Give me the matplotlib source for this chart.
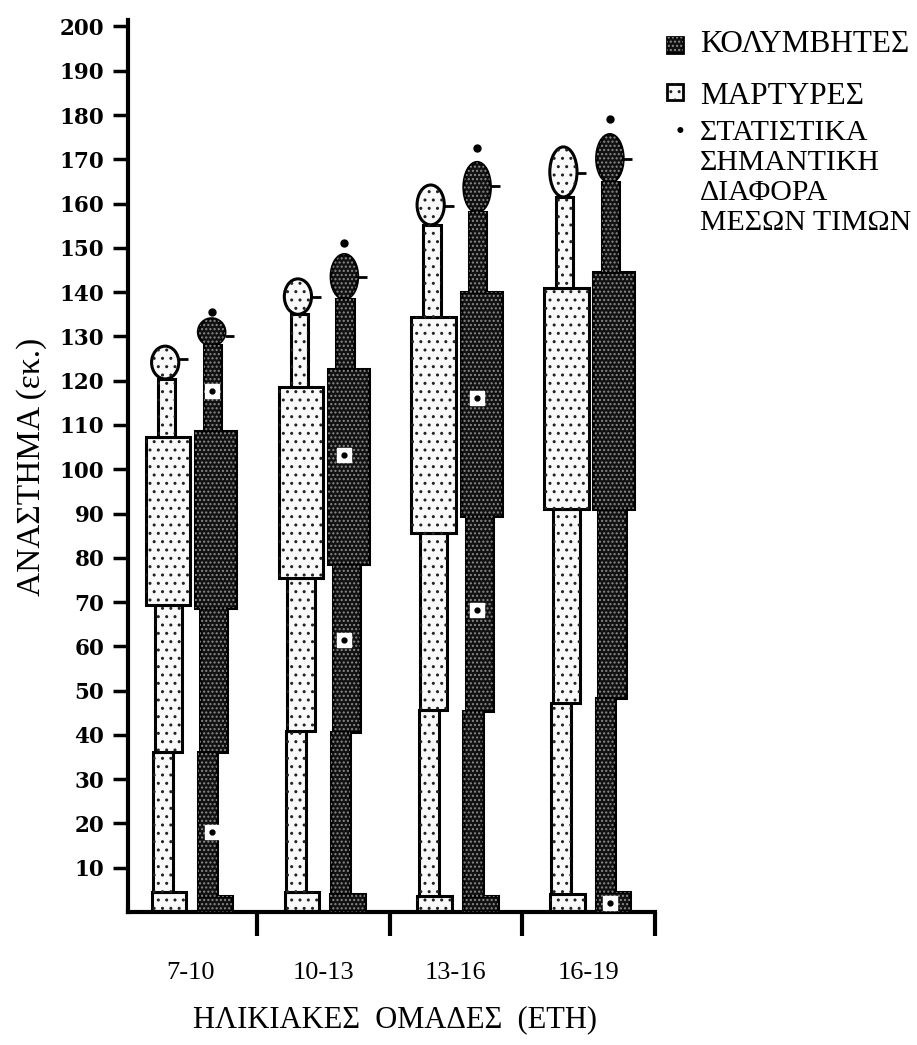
import matplotlib
matplotlib.use('Agg')
import matplotlib.pyplot as plt
from matplotlib.patches import Ellipse, Rectangle

# ---- data ----
groups = ['7-10', '10-13', '13-16', '16-19']

# ΜΑΡΤΥΡΕΣ (light)
m_base = [4.4, 4.4, 3.7, 4.0]
m_low = [36.1, 40.8, 45.7, 47.2]
m_mid = [69.3, 75.4, 85.6, 91.0]
m_box = [107.2, 118.5, 134.4, 141.0]
m_ell_lo = [120.4, 135.0, 155.2, 161.5]
m_ell_hi = [127.8, 143.0, 164.2, 172.8]
m_mean = [125.0, 139.0, 159.5, 167.0]

# ΚΟΛΥΜΒΗΤΕΣ (dark)
k_base = [3.7, 4.0, 3.7, 4.5]
k_low = [36.1, 40.6, 45.5, 48.3]
k_mid = [68.7, 78.6, 89.5, 91.0]
k_box = [108.6, 122.6, 140.0, 144.6]
k_ell_lo = [128.0, 138.5, 158.1, 164.8]
k_ell_hi = [134.0, 148.5, 169.3, 175.6]
k_mean = [130.0, 143.5, 164.0, 170.0]
k_sig = [135.5, 151.0, 172.5, 179.0]

# white square markers inside the dark bars
sq_group = [0, 0, 1, 1, 2, 2, 3]
sq_value = [117.7, 18.0, 103.2, 61.5, 116.0, 68.3, 2.0]

SERIF = 'Liberation Serif'

# look of the two series
LIGHT = dict(face='#f9f9f9', hatch='..', hcolor='#222222')
DARK = dict(face='#111111', hatch='....', hcolor='#8a8a8a')

# segment layout: (left offset, width) relative to group centre
m_geo = dict(base=(-0.29, 0.26), low=(-0.28, 0.15), mid=(-0.27, 0.205),
             box=(-0.335, 0.335), top=(-0.245, 0.13), ell=(-0.19, 0.205))
k_geo = dict(base=(0.055, 0.26), low=(0.057, 0.145), mid=(0.073, 0.205),
             box=(0.035, 0.31), top=(0.10, 0.13), ell=(0.16, 0.20))


def seg(ax, x, lo, hi, w, sty):
    ax.bar(x, hi - lo, bottom=lo, width=w, align='edge', color=sty['face'],
           edgecolor='black', linewidth=2.2, zorder=2)
    ax.bar(x, hi - lo, bottom=lo, width=w, align='edge', color='none',
           edgecolor=sty['hcolor'], hatch=sty['hatch'], linewidth=0, zorder=3)


def ell(ax, x, lo, hi, w, sty):
    e1 = Ellipse((x, (lo + hi) / 2), w, hi - lo, facecolor=sty['face'],
                 edgecolor='black', linewidth=2.2, zorder=2)
    e2 = Ellipse((x, (lo + hi) / 2), w, hi - lo, facecolor='none',
                 edgecolor=sty['hcolor'], hatch=sty['hatch'], linewidth=0, zorder=3)
    ax.add_patch(e1)
    ax.add_patch(e2)


def draw_series(ax, geo, sty, base, low, mid, box, elo, ehi, mean):
    for i in range(len(groups)):
        seg(ax, i + geo['base'][0], 0, base[i], geo['base'][1], sty)
        seg(ax, i + geo['low'][0], base[i], low[i], geo['low'][1], sty)
        seg(ax, i + geo['mid'][0], low[i], mid[i], geo['mid'][1], sty)
        seg(ax, i + geo['box'][0], mid[i], box[i], geo['box'][1], sty)
        seg(ax, i + geo['top'][0], box[i], elo[i], geo['top'][1], sty)
        cx, ew = geo['ell']
        ell(ax, i + cx, elo[i], ehi[i], ew, sty)
        # mean tick to the right of the ellipse
        ax.plot([i + cx + ew / 2, i + cx + ew / 2 + 0.07], [mean[i], mean[i]],
                color='black', lw=2, zorder=4, solid_capstyle='butt')


fig = plt.figure(figsize=(9.17, 10.45), dpi=100)
ax = fig.add_axes([0.1396, 0.1273, 0.5747, 0.8537])

draw_series(ax, m_geo, LIGHT, m_base, m_low, m_mid, m_box, m_ell_lo, m_ell_hi, m_mean)
draw_series(ax, k_geo, DARK, k_base, k_low, k_mid, k_box, k_ell_lo, k_ell_hi, k_mean)

# significance dots above the dark bars
ax.plot([i + k_geo['ell'][0] for i in range(len(groups))], k_sig, 'o',
        color='black', ms=5, zorder=5, clip_on=False)

# white squares with a black dot
sq_x = [g + 0.16 for g in sq_group]
ax.plot(sq_x, sq_value, 's', ms=10, mfc='white', mec='white', zorder=5)
ax.plot(sq_x, sq_value, 'o', ms=3.5, color='black', zorder=6)

ax.set_xlim(-0.47, 3.5)
ax.set_ylim(0, 201.5)
for s in ['top', 'right']:
    ax.spines[s].set_visible(False)
for s in ['left', 'bottom']:
    ax.spines[s].set_linewidth(3)

ax.set_yticks(range(10, 201, 10))
ax.set_yticklabels([str(v) for v in range(10, 201, 10)],
                   fontfamily='DejaVu Serif', fontweight='bold', fontsize=15.5)
ax.tick_params(axis='y', length=11, width=2.5, pad=6)

ax.set_xticks(range(len(groups)))
ax.set_xticklabels(groups, fontfamily=SERIF, fontsize=19)
ax.tick_params(axis='x', which='major', length=0, pad=36)
ax.set_xticks([0.5, 1.5, 2.5, 3.5], minor=True)
ax.tick_params(axis='x', which='minor', length=17, width=3)

fig.text(32 / 917, 1 - 467 / 1045, 'ΑΝΑΣΤΗΜΑ (εκ.)', rotation=90,
         ha='center', va='center', fontfamily=SERIF, fontsize=24)
fig.text(395 / 917, 1 - 1020 / 1045, 'ΗΛΙΚΙΑΚΕΣ  ΟΜΑΔΕΣ  (ΕΤΗ)',
         ha='center', va='center', fontfamily=SERIF, fontsize=22)

# legend drawn by hand
def legend_box(px, py, sty):
    r1 = Rectangle((px / 917, 1 - py / 1045), 16 / 917, 16 / 1045,
                   transform=fig.transFigure, facecolor=sty['face'],
                   edgecolor='black', linewidth=2)
    r2 = Rectangle((px / 917, 1 - py / 1045), 16 / 917, 16 / 1045,
                   transform=fig.transFigure, facecolor='none',
                   edgecolor=sty['hcolor'], hatch=sty['hatch'], linewidth=0)
    fig.add_artist(r1)
    fig.add_artist(r2)

legend_box(667, 53, DARK)
legend_box(667, 100, LIGHT)
fig.text(700 / 917, 1 - 45 / 1045, 'ΚΟΛΥΜΒΗΤΕΣ', va='center', ha='left',
         fontfamily=SERIF, fontsize=22.5)
fig.text(700 / 917, 1 - 96 / 1045, 'ΜΑΡΤΥΡΕΣ', va='center', ha='left',
         fontfamily=SERIF, fontsize=22.5)
fig.text(680 / 917, 1 - 133 / 1045, '•', va='center', ha='center',
         fontfamily=SERIF, fontsize=18)
for j, line in enumerate(['ΣΤΑΤΙΣΤΙΚΑ', 'ΣΗΜΑΝΤΙΚΗ', 'ΔΙΑΦΟΡΑ', 'ΜΕΣΩΝ ΤΙΜΩΝ']):
    fig.text(700 / 917, 1 - (133 + 30 * j) / 1045, line, va='center', ha='left',
             fontfamily=SERIF, fontsize=21.5)

fig.savefig('out.png', dpi=100)
